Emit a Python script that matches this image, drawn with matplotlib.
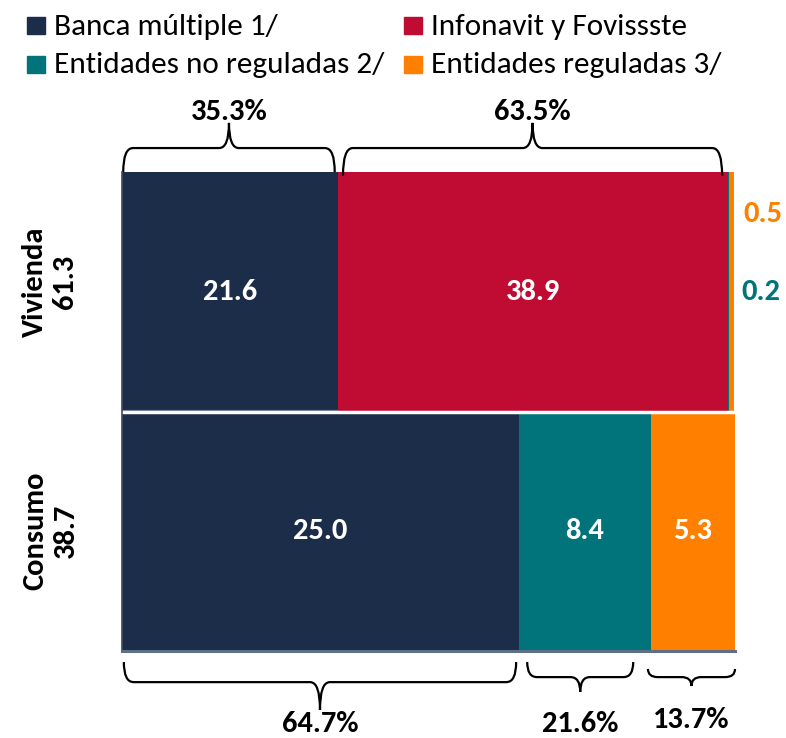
import matplotlib.pyplot as plt
from matplotlib.path import Path
from matplotlib.patches import PathPatch, Rectangle

plt.rcParams['font.family'] = ['Carlito', 'DejaVu Sans']

series = ["Banca múltiple 1/", "Infonavit y Fovissste",
          "Entidades no reguladas 2/", "Entidades reguladas 3/"]
colors = ["#1B2D48", "#C00C32", "#00747A", "#FF7F00"]

rows = ["Vivienda", "Consumo"]
row_totals = [61.3, 38.7]
# saldo por tipo de otorgante (Banca, Infonavit, no reguladas, reguladas)
viv_values = [21.6, 38.9, 0.2, 0.5]
viv_shares = [35.3, 63.5, 0.3, 0.8]
con_values = [25.0, 0.0, 8.4, 5.3]
con_shares = [64.7, 0.0, 21.6, 13.7]

fig = plt.figure(figsize=(7.86, 7.38), dpi=100)
ax = fig.add_axes([122 / 786, 1 - 651 / 738, 613 / 786, 479 / 738])


def brace(ax, x0, x1, y_end, y_mid, y_tip, xc=None, r=1.6):
    if xc is None:
        xc = (x0 + x1) / 2
    verts = [(x0, y_end), (x0, y_mid), (x0 + r, y_mid),
             (xc - r, y_mid), (xc, y_mid), (xc, y_tip),
             (xc, y_mid), (xc + r, y_mid),
             (x1 - r, y_mid), (x1, y_mid), (x1, y_end)]
    codes = [Path.MOVETO, Path.CURVE3, Path.CURVE3,
             Path.LINETO, Path.CURVE3, Path.CURVE3,
             Path.CURVE3, Path.CURVE3,
             Path.LINETO, Path.CURVE3, Path.CURVE3]
    ax.add_patch(PathPatch(Path(verts, codes), fill=False, lw=1.6,
                           color="black", clip_on=False))
    return xc


row_y = [1.5, 0.5]
all_vals = [viv_values, con_values]
all_shares = [viv_shares, con_shares]
lefts = []
for yi, vals, shares in zip(row_y, all_vals, all_shares):
    left = 0
    row_lefts = []
    for v, s, c in zip(vals, shares, colors):
        row_lefts.append(left)
        if s > 0:
            ax.barh(yi, s, left=left, height=1.0, color=c, linewidth=0)
            if s > 5:
                ax.text(left + s / 2, yi, f"{v:.1f}", color="white",
                        ha="center", va="center", fontsize=22,
                        fontweight="bold")
        left += s
    lefts.append(row_lefts)

ax.axhline(1.0, color="white", lw=2.5)
ax.hlines(1.007, 0, viv_shares[0], color="#7d8aa0", lw=0.8)

# small Vivienda segments labelled outside the bar
ax.text(101.3, 1.825, f"{viv_values[3]:.1f}", color=colors[3],
        ha="left", va="center", fontsize=22, fontweight="bold", clip_on=False)
ax.text(101.0, 1.5, f"{viv_values[2]:.1f}", color=colors[2],
        ha="left", va="center", fontsize=22, fontweight="bold", clip_on=False)

# braces above Vivienda: (segment, inset left, inset right, end y)
top = [(0, 0.2, 0.6, 2.0), (1, 0.75, 0.9, 1.985)]
for i, il, ir, ye in top:
    x0 = lefts[0][i] + il
    x1 = lefts[0][i] + viv_shares[i] - ir
    xc = brace(ax, x0, x1, ye, 2.1, 2.205)
    ax.text(xc, 2.25, f"{viv_shares[i]:.1f}%", ha="center",
            va="center", fontsize=22, fontweight="bold", clip_on=False)

# braces below Consumo: (segment, inset left, inset right, end, mid, tip, label baseline)
bottom = [(0, 0.3, 0.4, -0.046, -0.13, -0.246, -0.338),
          (2, 1.4, 2.9, -0.046, -0.109, -0.171, -0.34),
          (3, -0.5, 0.0, -0.075, -0.109, -0.146, -0.322)]
for i, il, ir, ye, ym, yt, yl in bottom:
    x0 = lefts[1][i] + il
    x1 = lefts[1][i] + con_shares[i] - ir
    xc = brace(ax, x0, x1, ye, ym, yt)
    ax.text(xc, yl, f"{con_shares[i]:.1f}%", ha="center",
            va="baseline", fontsize=22, fontweight="bold", clip_on=False)

for yi, dy, name, tot in zip(row_y, [0.04, 0.0], rows, row_totals):
    ax.text(-11.7, yi + dy, f"{name}\n{tot:.1f}", rotation=90, ha="center",
            va="center", fontsize=22, fontweight="bold", linespacing=1.2)

ax.set_xlim(0, 100)
ax.set_ylim(0, 2)
ax.set_xticks([])
ax.set_yticks([])
for side in ["top", "right"]:
    ax.spines[side].set_visible(False)
ax.spines["left"].set_color("#3c4a5e")
ax.spines["left"].set_linewidth(1.2)
ax.spines["bottom"].set_color("#5f6f86")
ax.spines["bottom"].set_linewidth(2.2)

# legend
leg_pos = [(27, 17, 35), (404, 17, 35), (27, 56, 73), (404, 56, 73)]
for (px, py, pb), name, c in zip(leg_pos, series, colors):
    fig.patches.append(Rectangle((px / 786, 1 - (py + 17) / 738), 18 / 786,
                                 17 / 738, transform=fig.transFigure,
                                 color=c))
    fig.text((px + 27) / 786, 1 - pb / 738, name, ha="left",
             va="baseline", fontsize=22.5)

fig.savefig("out.png", dpi=100)
